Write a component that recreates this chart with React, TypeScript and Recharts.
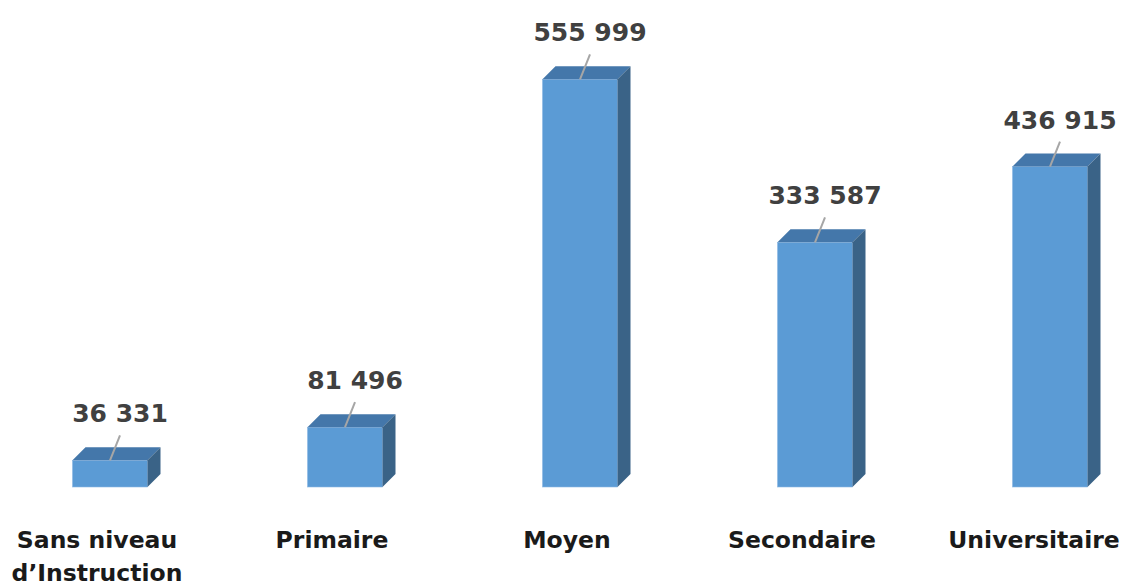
import { Bar, BarChart, LabelList, XAxis, YAxis } from "recharts"

const categories = ["Sans niveau|d’Instruction", "Primaire", "Moyen", "Secondaire", "Universitaire"]
const values = [36331, 81496, 555999, 333587, 436915]

const data = categories.map((c, i) => ({ idx: i, name: c, value: values[i] }))

const FRONT = "#5B9BD5"
const TOP = "#4477AA"
const SIDE = "#3A6387"
const DEPTH = 13

const fmt = (v: number) => String(v).replace(/\B(?=(\d{3})+(?!\d))/g, " ")

function Box3D(props: any) {
  const { x, y, width: w, height: h } = props
  const d = DEPTH
  return (
    <g>
      <rect x={x} y={y} width={w} height={h} fill={FRONT} stroke="#8DB8E3" strokeWidth={0.6} />
      <polygon
        points={`${x},${y} ${x + d},${y - d} ${x + w + d},${y - d} ${x + w},${y}`}
        fill={TOP}
      />
      <polygon
        points={`${x + w},${y} ${x + w + d},${y - d} ${x + w + d},${y + h - d} ${x + w},${y + h}`}
        fill={SIDE}
      />
    </g>
  )
}

function ValueLabel(props: any) {
  const { x, y, width, value } = props
  const cx = x + width / 2
  return (
    <g>
      <line x1={cx} y1={y} x2={cx + 10} y2={y - 25} stroke="#A6A6A6" strokeWidth={2} />
      <text
        x={cx + 10}
        y={y - 38}
        textAnchor="middle"
        fontFamily="DejaVu Sans"
        fontWeight="bold"
        fontSize={25}
        fill="#404040"
      >
        {fmt(value)}
      </text>
    </g>
  )
}

function CatTick(props: any) {
  const { x, y, payload } = props
  const lines = categories[payload.value].split("|")
  const tx = payload.value === 4 ? x - 16 : x - 13
  return (
    <text
      x={tx}
      y={y}
      textAnchor="middle"
      fontFamily="DejaVu Sans"
      fontWeight="bold"
      fontSize={23.5}
      fill="#1A1A1A"
    >
      {lines.map((l, i) => (
        <tspan key={i} x={tx} dy={i === 0 ? 53 : 33}>
          {l}
        </tspan>
      ))}
    </text>
  )
}

export default function App() {
  return (
    <div style={{ position: "absolute", left: 0, top: 0, width: 1122, height: 587, background: "#fff" }}>
      <BarChart
        width={1122}
        height={587}
        data={data}
        margin={{ top: 47, right: 72, left: 110, bottom: 0 }}
      >
        <XAxis
          type="number"
          dataKey="idx"
          domain={[0, 4]}
          ticks={[0, 1, 2, 3, 4]}
          axisLine={false}
          tickLine={false}
          tick={<CatTick />}
          interval={0}
          height={100}
        />
        <YAxis hide domain={[0, 600000]} />
        <Bar dataKey="value" barSize={75} shape={<Box3D />} isAnimationActive={false}>
          <LabelList dataKey="value" content={<ValueLabel />} />
        </Bar>
      </BarChart>
    </div>
  )
}
